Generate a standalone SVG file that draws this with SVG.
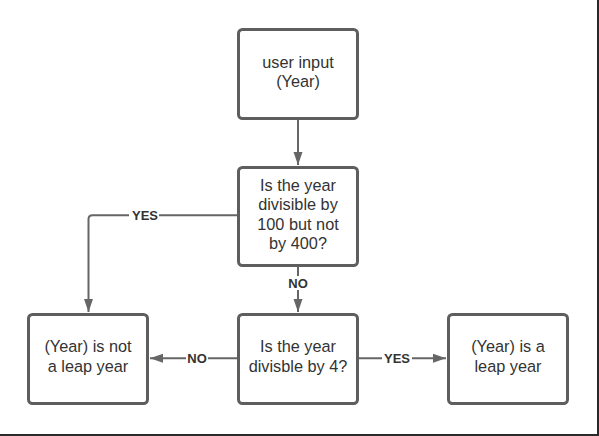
<svg xmlns="http://www.w3.org/2000/svg" width="599" height="436" viewBox="0 0 599 436">
  <style>
    .box { fill: #ffffff; stroke: #5e5e5e; stroke-width: 3; }
    .txt { font-family: "Liberation Sans", Arial, sans-serif; font-size: 16.3px; fill: #333333; text-anchor: middle; }
    .conn { fill: none; stroke: #666666; stroke-width: 2; }
    .lbl { font-family: "Liberation Sans", Arial, sans-serif; font-size: 13px; font-weight: bold; fill: #333333; text-anchor: middle; }
    .lblbg { fill: #ffffff; }
  </style>
  <defs>
    <marker id="arrow" markerUnits="userSpaceOnUse" markerWidth="14" markerHeight="12" refX="13" refY="6" orient="auto">
      <path d="M0,1.5 L13,6 L0,10.5 Z" fill="#666666"/>
    </marker>
  </defs>
  <rect x="0" y="0" width="599" height="436" fill="#ffffff"/>

  <g id="connectors">
    <line class="conn" x1="298" y1="119" x2="298" y2="165" marker-end="url(#arrow)"/>
    <path class="conn" d="M238,215.3 L92.5,215.3 Q88.5,215.3 88.5,219.3 L88.5,312" marker-end="url(#arrow)"/>
    <line class="conn" x1="298" y1="266" x2="298" y2="312" marker-end="url(#arrow)"/>
    <line class="conn" x1="237" y1="358.3" x2="150" y2="358.3" marker-end="url(#arrow)"/>
    <line class="conn" x1="359" y1="358.3" x2="446" y2="358.3" marker-end="url(#arrow)"/>
    <g id="labels">
      <rect class="lblbg" x="129" y="208" width="30" height="14"/>
      <text class="lbl" x="145" y="220">YES</text>
      <rect class="lblbg" x="287" y="276" width="22" height="14"/>
      <text class="lbl" x="298" y="288">NO</text>
      <rect class="lblbg" x="186" y="351" width="22" height="14"/>
      <text class="lbl" x="197" y="363">NO</text>
      <rect class="lblbg" x="382" y="351" width="30" height="14"/>
      <text class="lbl" x="397" y="363">YES</text>
    </g>
  </g>

  <g id="node-input">
    <rect class="box" x="238.5" y="29.5" width="119" height="89" rx="4"/>
    <text class="txt" x="298" y="67.5">user input</text>
    <text class="txt" x="298" y="87">(Year)</text>
  </g>

  <g id="node-div100">
    <rect class="box" x="238.5" y="167.5" width="119" height="98" rx="4"/>
    <text class="txt" x="298" y="190.5">Is the year</text>
    <text class="txt" x="298" y="210">divisible by</text>
    <text class="txt" x="298" y="229.5">100 but not</text>
    <text class="txt" x="298" y="249">by 400?</text>
  </g>

  <g id="node-notleap">
    <rect class="box" x="28.5" y="314.5" width="119" height="89" rx="4"/>
    <text class="txt" x="88" y="352">(Year) is not</text>
    <text class="txt" x="88" y="371.5">a leap year</text>
  </g>

  <g id="node-div4">
    <rect class="box" x="238.5" y="314.5" width="119" height="89" rx="4"/>
    <text class="txt" x="298" y="352">Is the year</text>
    <text class="txt" x="298" y="371.5">divisble by 4?</text>
  </g>

  <g id="node-leap">
    <rect class="box" x="448.5" y="314.5" width="119" height="89" rx="4"/>
    <text class="txt" x="508" y="352">(Year) is a</text>
    <text class="txt" x="508" y="371.5">leap year</text>
  </g>

  <rect x="597" y="0" width="2" height="436" fill="#2a2a2a"/>
  <rect x="0" y="434" width="599" height="2" fill="#2a2a2a"/>
</svg>
